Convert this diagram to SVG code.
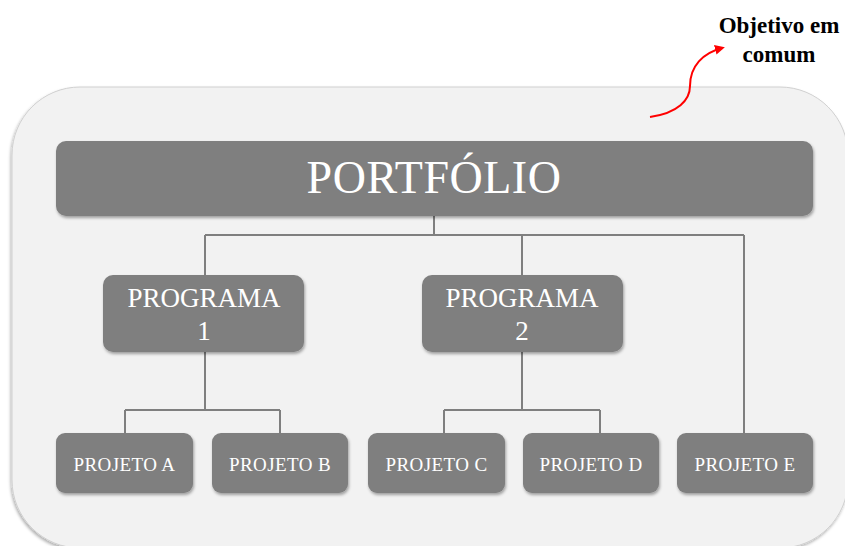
<svg xmlns="http://www.w3.org/2000/svg" width="845" height="546" viewBox="0 0 845 546">
<defs>
<filter id="sh" x="-10%" y="-20%" width="120%" height="150%">
<feDropShadow dx="1" dy="2" stdDeviation="1.5" flood-color="#000" flood-opacity="0.35"/>
</filter>
<filter id="csh" x="-5%" y="-5%" width="110%" height="110%">
<feDropShadow dx="-1" dy="2" stdDeviation="1.5" flood-color="#000" flood-opacity="0.3"/>
</filter>
<marker id="ah" viewBox="0 0 10 10" refX="7" refY="5" markerWidth="5" markerHeight="5" orient="auto">
<path d="M0,0 L10,5 L0,10 z" fill="#ff0000"/>
</marker>
<style>
.box{fill:#7f7f7f;filter:url(#sh)}
.t{fill:#ffffff;font-family:"Liberation Serif","Times New Roman",serif;text-anchor:middle}
.p{font-size:19px;letter-spacing:0.4px}
.c{fill:none;stroke:#7f7f7f;stroke-width:2}
.o{font-family:"Liberation Serif","Times New Roman",serif;font-size:23px;font-weight:bold;text-anchor:middle;fill:#000}
</style>
</defs>
<rect width="845" height="546" fill="#ffffff"/>
<g id="container">
<rect x="12" y="87" width="836" height="461" rx="68" ry="68" fill="#f2f2f2" stroke="#d0d0d0" stroke-width="1" filter="url(#csh)"/>
</g>
<g id="connectors">
<path class="c" d="M434,216 V235 M205,235 H744 M205,235 V275 M522,235 V275 M744,235 V433"/>
<path class="c" d="M205,352 V410 M125,410 H280 M125,410 V433 M280,410 V433"/>
<path class="c" d="M522,352 V410 M444,410 H600 M444,410 V433 M600,410 V433"/>
</g>
<g id="portfolio">
<rect class="box" x="56" y="141" width="757" height="75" rx="10"/>
<text class="t" x="434" y="193" font-size="46" letter-spacing="0.5">PORTFÓLIO</text>
</g>
<g id="programa1">
<rect class="box" x="103" y="275" width="201" height="77" rx="10"/>
<text class="t" x="204" y="307" font-size="27">PROGRAMA</text>
<text class="t" x="204" y="340" font-size="27">1</text>
</g>
<g id="programa2">
<rect class="box" x="422" y="275" width="201" height="77" rx="10"/>
<text class="t" x="522" y="307" font-size="27">PROGRAMA</text>
<text class="t" x="522" y="340" font-size="27">2</text>
</g>
<g id="projetoA">
<rect class="box" x="56" y="433" width="137" height="60" rx="9"/>
<text class="t p" x="124.5" y="471">PROJETO A</text>
</g>
<g id="projetoB">
<rect class="box" x="212" y="433" width="136" height="60" rx="9"/>
<text class="t p" x="280" y="471">PROJETO B</text>
</g>
<g id="projetoC">
<rect class="box" x="368" y="433" width="137" height="60" rx="9"/>
<text class="t p" x="436.5" y="471">PROJETO C</text>
</g>
<g id="projetoD">
<rect class="box" x="523" y="433" width="136" height="60" rx="9"/>
<text class="t p" x="591" y="471">PROJETO D</text>
</g>
<g id="projetoE">
<rect class="box" x="677" y="433" width="136" height="60" rx="9"/>
<text class="t p" x="745" y="471">PROJETO E</text>
</g>
<g id="objetivo">
<path d="M650,117 C678,113 690,100 690,86 C690,66 703,53 722,48" fill="none" stroke="#ff0000" stroke-width="2" marker-end="url(#ah)"/>
<text class="o" x="779" y="33">Objetivo em</text>
<text class="o" x="779" y="62">comum</text>
</g>
</svg>
